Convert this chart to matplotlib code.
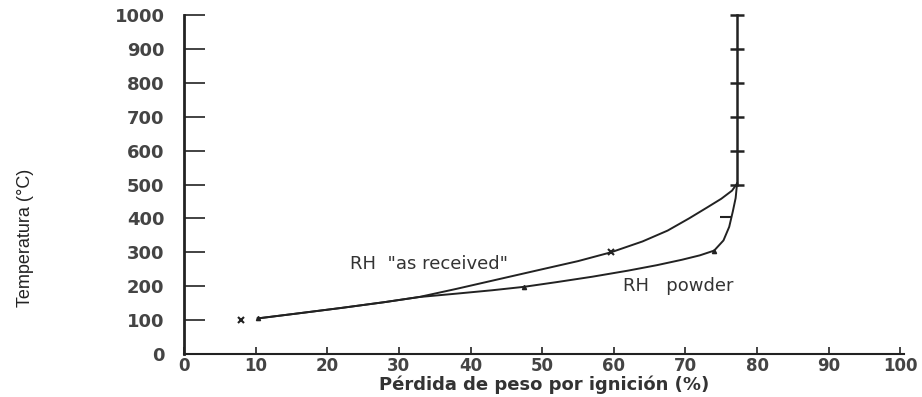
import matplotlib
matplotlib.use('Agg')
import matplotlib.pyplot as plt

# trazado de la curva "as received" (perdida %, temperatura C)
recv_x = [10.3, 16, 22, 28, 32.8, 38, 44, 50, 55, 59.6, 64, 67.5, 70.5, 73, 75, 76.5, 77.2]
recv_t = [105, 120, 136, 153, 168, 192, 221, 250, 274, 300, 332, 364, 400, 432, 458, 482, 503]

# trazado de la curva "powder"
pow_x = [10.3, 16, 22, 28, 32.8, 38, 43, 47.4, 52, 57, 62, 66, 69.5, 72, 74, 75.3, 76.1, 76.6, 77, 77.2]
pow_t = [105, 120, 136, 153, 168, 178, 188, 198, 212, 228, 246, 262, 278, 291, 305, 335, 375, 420, 460, 503]

# puntos medidos
recv_pts_x = [8, 59.6]
recv_pts_t = [100, 300]
pow_pts_x = [10.3, 47.4, 74]
pow_pts_t = [105, 198, 305]

# tramo vertical por encima de 500 C
alta_x = [77.2, 77.2, 77.2, 77.2, 77.2, 77.2]
alta_t = [500, 600, 700, 800, 900, 1000]

xticks = [0, 10, 20, 30, 40, 50, 60, 70, 80, 90, 100]
yticks = [0, 100, 200, 300, 400, 500, 600, 700, 800, 900, 1000]

fig = plt.figure(figsize=(9.22, 3.97), dpi=100)
ax = fig.add_axes([184 / 922, 43 / 397, 720 / 922, 339 / 397])

c = '#222222'
ax.plot(recv_x, recv_t, color=c, lw=1.4)
ax.plot(pow_x, pow_t, color=c, lw=1.4)
ax.plot(recv_pts_x, recv_pts_t, 'x', color=c, ms=4, mew=1.5)
ax.plot(pow_pts_x, pow_pts_t, '^', color=c, ms=3)
ax.plot([75.6], [404], '_', color=c, ms=9, mew=1.5)
ax.plot(alta_x, alta_t, color=c, lw=1.8, marker='_', ms=10, mew=1.8, clip_on=False)

ax.text(34.2, 265, 'RH  "as received"', fontsize=13, color='#333333',
        ha='center', va='center')
ax.text(61.3, 200, 'RH   powder', fontsize=13, color='#333333',
        ha='left', va='center')

ax.set_xlim(0, 100.5)
ax.set_ylim(0, 1000)
ax.set_xticks(xticks)
ax.set_yticks(yticks)
ax.spines['top'].set_visible(False)
ax.spines['right'].set_visible(False)
ax.spines['left'].set_linewidth(2)
ax.spines['bottom'].set_linewidth(1.5)
ax.spines['left'].set_color(c)
ax.spines['bottom'].set_color(c)
ax.tick_params(axis='y', direction='in', length=15, width=1.2, pad=14, colors=c,
               labelsize=13, labelcolor='#444444')
ax.tick_params(axis='x', direction='in', length=5, width=1.2, pad=2, colors=c,
               labelsize=12, labelcolor='#444444')
for lb in ax.get_xticklabels() + ax.get_yticklabels():
    lb.set_fontweight('bold')

ax.set_xlabel('Pérdida de peso por ignición (%)', fontsize=13, fontweight='bold',
              color='#333333')
ax.xaxis.label.set_va('center')
ax.xaxis.set_label_coords(0.5, -(385 - 354) / 339)
fig.text(25 / 922, 1 - 238 / 397, 'Temperatura (°C)', rotation=90, fontsize=13,
         family=['Liberation Sans', 'DejaVu Sans'], color='#222222',
         ha='center', va='center')

fig.savefig('out.png', dpi=100)
